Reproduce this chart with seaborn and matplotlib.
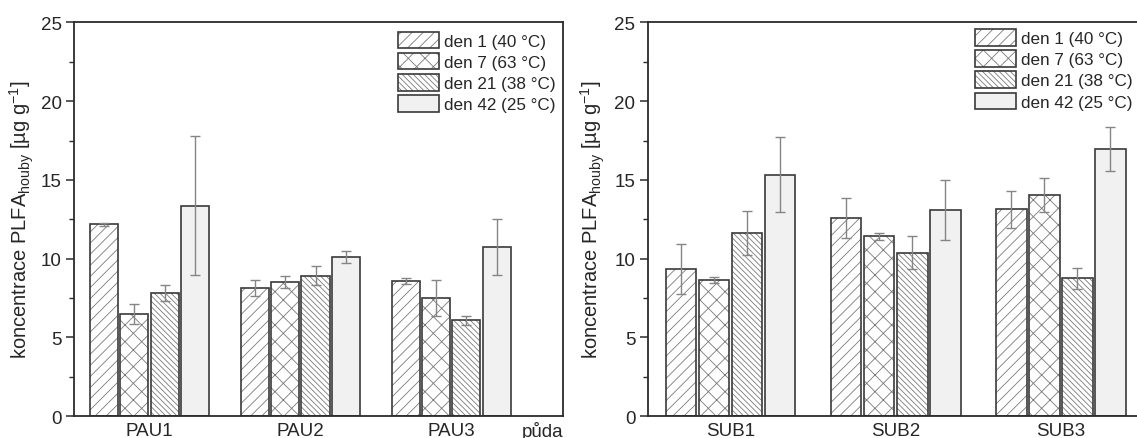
import numpy as np
import pandas as pd
import matplotlib
matplotlib.use("Agg")
import matplotlib.pyplot as plt
import seaborn as sns

# ---- data -------------------------------------------------------------
days = ["den 1 (40 °C)", "den 7 (63 °C)", "den 21 (38 °C)", "den 42 (25 °C)"]

soils_pau = ["PAU1", "PAU2", "PAU3"]
pau_den1 = [12.18, 8.11, 8.58]
pau_den7 = [6.46, 8.54, 7.50]
pau_den21 = [7.82, 8.92, 6.08]
pau_den42 = [13.37, 10.13, 10.74]
pau_err_den1 = [0.10, 0.50, 0.17]
pau_err_den7 = [0.63, 0.38, 1.17]
pau_err_den21 = [0.50, 0.60, 0.30]
pau_err_den42 = [4.40, 0.38, 1.80]

soils_sub = ["SUB1", "SUB2", "SUB3"]
sub_den1 = [9.33, 12.55, 13.13]
sub_den7 = [8.63, 11.41, 14.06]
sub_den21 = [11.62, 10.37, 8.74]
sub_den42 = [15.33, 13.08, 16.96]
sub_err_den1 = [1.60, 1.27, 1.16]
sub_err_den7 = [0.20, 0.23, 1.08]
sub_err_den21 = [1.40, 1.06, 0.65]
sub_err_den42 = [2.37, 1.93, 1.40]

yticks = [0, 5, 10, 15, 20, 25]

# ---- style ------------------------------------------------------------
sns.set_style("white")
plt.rcParams["font.family"] = ["Liberation Sans", "DejaVu Sans"]
plt.rcParams["mathtext.fontset"] = "custom"
plt.rcParams["mathtext.rm"] = "Liberation Sans"
plt.rcParams["mathtext.it"] = "Liberation Sans"
plt.rcParams["hatch.linewidth"] = 0.6

hatches = ["///", "xx", "\\\\\\\\\\\\", ""]
faces = ["white", "white", "white", "#f1f1f1"]
outline = "#3a3a3a"
hatch_col = "#7a7a7a"
err_col = "#858585"
spine_col = "#2b2b2b"

ylabel = r"koncentrace PLFA$_{\mathregular{houby}}$ [µg g$^{\mathregular{-1}}$]"


def long_frame(soils, means, errs):
    rows = []
    for d, m, e in zip(days, means, errs):
        for s, v, ev in zip(soils, m, e):
            rows.append({"soil": s, "day": d, "value": v, "err": ev})
    return pd.DataFrame(rows)


def set_hatch_color(patch, color):
    if hasattr(patch, "set_hatchcolor"):
        patch.set_hatchcolor(color)
    else:
        patch._hatch_color = matplotlib.colors.to_rgba(color)


def panel(ax, soils, means, errs, xmax, legend_anchor):
    df = long_frame(soils, means, errs)
    sns.barplot(data=df, x="soil", y="value", hue="day", order=soils,
                hue_order=days, palette=dict(zip(days, faces)),
                saturation=1, errorbar=None, width=0.8, gap=0.07,
                legend=False, ax=ax)
    bars = [c for c in ax.containers]
    for i, cont in enumerate(bars):
        for p in cont.patches:
            p.set_hatch(hatches[i])
            p.set_edgecolor(outline)
            p.set_linewidth(1.2)
            set_hatch_color(p, hatch_col)
        xs = [p.get_x() + p.get_width() / 2 for p in cont.patches]
        hs = [p.get_height() for p in cont.patches]
        ax.errorbar(xs, hs, yerr=errs[i], fmt="none", ecolor=err_col,
                    elinewidth=1.0, capsize=3.5, capthick=1.0, zorder=5)

    ax.set_xlim(-0.5, xmax)
    ax.set_ylim(0, 25)
    ax.set_yticks(yticks)
    ax.set_yticks(np.arange(2.5, 25, 5), minor=True)
    ax.tick_params(axis="y", which="major", direction="out", length=6,
                   width=1.1, color=spine_col, labelsize=13.5, pad=3,
                   left=True)
    ax.tick_params(axis="y", which="minor", direction="out", length=3.5,
                   width=1.0, color=spine_col, left=True)
    ax.tick_params(axis="x", length=0, labelsize=13.5, pad=4)
    for sp in ax.spines.values():
        sp.set_color(spine_col)
        sp.set_linewidth(1.3)
    ax.set_xlabel("")
    ax.set_ylabel(ylabel, fontsize=14.5)
    ax.yaxis.set_label_coords(-0.077, 0.5)

    ax.legend(handles=[c.patches[0] for c in bars], labels=days,
              loc="upper left", bbox_to_anchor=legend_anchor,
              frameon=False, fontsize=12.3, handlelength=2.4,
              handleheight=1.1, labelspacing=0.24, handletextpad=0.3,
              borderpad=0, borderaxespad=0)


fig = plt.figure(figsize=(11.37, 4.39), dpi=100)
ax1 = fig.add_axes([0.0651, 0.0501, 0.4301, 0.8964])
ax2 = fig.add_axes([0.5699, 0.0501, 0.4705, 0.8964])

panel(ax1, soils_pau,
      [pau_den1, pau_den7, pau_den21, pau_den42],
      [pau_err_den1, pau_err_den7, pau_err_den21, pau_err_den42],
      2.74, (0.663, 0.976))
ax1.annotate("půda", xy=(0.959, -0.036), xycoords="axes fraction",
             ha="center", va="center", fontsize=13.5)

panel(ax2, soils_sub,
      [sub_den1, sub_den7, sub_den21, sub_den42],
      [sub_err_den1, sub_err_den7, sub_err_den21, sub_err_den42],
      2.74, (0.612, 0.983))

fig.savefig("out.png", dpi=100)
